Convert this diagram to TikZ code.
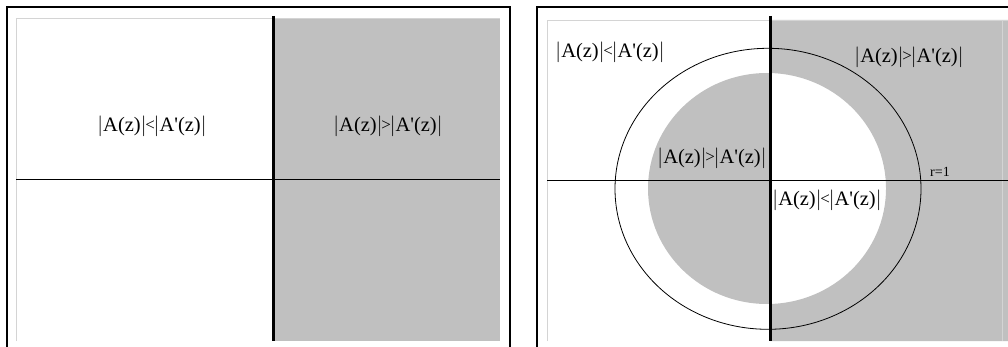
\documentclass[tikz,border=0pt]{standalone}
\usepackage{fontspec}
\setmainfont{Liberation Serif}
\definecolor{regiongray}{HTML}{C0C0C0}
\definecolor{edgegray}{HTML}{D4D4D4}
\tikzset{
  lbl/.style={inner sep=0pt, font=\fontsize{20.5}{24}\selectfont},
  small/.style={inner sep=0pt, font=\fontsize{14}{16}\selectfont},
  frame/.style={line width=2.4pt, black},
  axis/.style={line width=1pt, black},
  thickaxis/.style={line width=3pt, black},
}
\newcommand{\Aless}{$|$A(z)$|$\kern-1.2pt\raisebox{1pt}{\fontsize{17}{17}\selectfont<}\kern-1.2pt$|$A\textquotesingle(z)$|$}
\newcommand{\Amore}{$|$A(z)$|$\kern-1.2pt\raisebox{1pt}{\fontsize{17}{17}\selectfont>}\kern-1.2pt$|$A\textquotesingle(z)$|$}
\begin{document}
\begin{tikzpicture}[x=1pt,y=-1pt]
\useasboundingbox (0,0) rectangle (1008,347);
% ---------- left panel ----------
\fill[white] (16,18) rectangle (500,341);
\fill[regiongray] (273,18) rectangle (500,341);
\draw[edgegray, line width=0.6pt] (16,341) -- (16,18) -- (500,18);
\draw[axis] (16,180) -- (500,180);
\draw[thickaxis] (273,16) -- (273,341);
\draw[frame] (7,347) -- (7,7) -- (510,7) -- (510,347);
\node[lbl] (l1) at (152,126) {\Aless};
\node[lbl] (l2) at (388,126) {\Amore};
% ---------- right panel ----------
\fill[regiongray, even odd rule] (770,20) rectangle (1008,341) (767,188.5) ellipse [x radius=119, y radius=115.5];
\draw[edgegray, line width=0.6pt] (547,341) -- (547,20) -- (1008,20);
\draw[edgegray, line width=0.6pt] (1002,20) -- (1002,341);
\draw[line width=0.8pt] (768,188.8) ellipse [x radius=153, y radius=140.5];
\draw[axis] (547,181) -- (1008,181);
\draw[thickaxis] (770,16) -- (770,341);
\draw[frame] (537,347) -- (537,7) -- (1010,7);
\node[lbl] (r1) at (610,52) {\Aless};
\node[lbl] (r2) at (909,57) {\Amore};
\node[lbl] (r3) at (712,158) {\Amore};
\node[lbl] (r4) at (827,200) {\Aless};
\node[small] (r5) at (940,172) {r=1};
\end{tikzpicture}
\end{document}
